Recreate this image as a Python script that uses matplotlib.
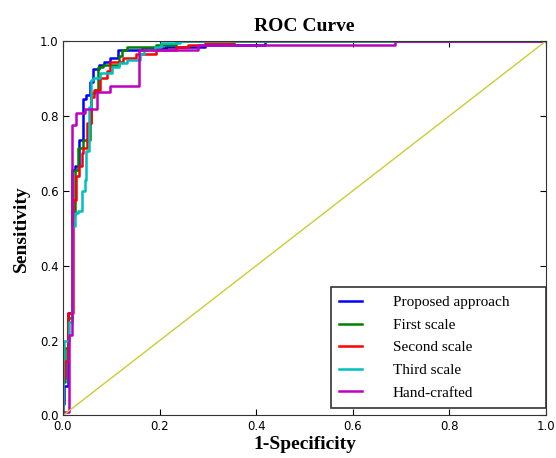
import matplotlib
matplotlib.use('Agg')
import matplotlib.pyplot as plt

# ROC step points: at each fpr the curve rises to the given tpr
fpr_prop = [0, 0, 0.003, 0.01, 0.018, 0.025, 0.034, 0.041, 0.048, 0.055, 0.062, 0.074, 0.084, 0.098, 0.114, 0.163, 0.213, 0.294, 0.419, 1.0]
tpr_prop = [0, 0.03, 0.08, 0.275, 0.655, 0.665, 0.735, 0.845, 0.855, 0.89, 0.925, 0.935, 0.945, 0.955, 0.975, 0.98, 0.985, 0.99, 1.0, 1.0]

fpr_first = [0, 0, 0.005, 0.01, 0.019, 0.025, 0.032, 0.042, 0.056, 0.059, 0.067, 0.073, 0.082, 0.116, 0.122, 0.132, 0.193, 0.233, 1.0]
tpr_first = [0, 0.09, 0.18, 0.26, 0.535, 0.655, 0.715, 0.735, 0.78, 0.86, 0.87, 0.93, 0.935, 0.96, 0.975, 0.983, 0.99, 1.0, 1.0]

fpr_second = [0, 0, 0.004, 0.011, 0.02, 0.026, 0.034, 0.039, 0.042, 0.05, 0.058, 0.065, 0.076, 0.092, 0.098, 0.124, 0.152, 0.193, 0.233, 0.258, 0.294, 0.354, 1.0]
tpr_second = [0, 0.1, 0.145, 0.275, 0.575, 0.64, 0.665, 0.70, 0.715, 0.78, 0.85, 0.87, 0.90, 0.92, 0.945, 0.955, 0.965, 0.975, 0.985, 0.99, 0.995, 1.0, 1.0]

fpr_third = [0, 0, 0.003, 0.012, 0.019, 0.025, 0.032, 0.039, 0.045, 0.048, 0.054, 0.057, 0.058, 0.062, 0.076, 0.101, 0.116, 0.132, 0.159, 0.167, 0.19, 0.202, 0.243, 1.0]
tpr_third = [0, 0.15, 0.2, 0.25, 0.505, 0.54, 0.545, 0.6, 0.63, 0.705, 0.825, 0.86, 0.895, 0.9, 0.915, 0.93, 0.94, 0.95, 0.965, 0.975, 0.985, 0.995, 1.0, 1.0]

fpr_hand = [0, 0, 0.013, 0.018, 0.027, 0.045, 0.071, 0.098, 0.158, 0.28, 0.687, 1.0]
tpr_hand = [0, 0.01, 0.215, 0.775, 0.807, 0.818, 0.865, 0.88, 0.977, 0.99, 1.0, 1.0]

labels = ['Proposed approach', 'First scale', 'Second scale', 'Third scale', 'Hand-crafted']
colors = ['b', 'g', 'r', 'c', 'm']

fig = plt.figure(figsize=(5.56, 4.58), dpi=100)
ax = fig.add_axes([0.1133, 0.0928, 0.8687, 0.8177])

curves = [(fpr_prop, tpr_prop), (fpr_first, tpr_first), (fpr_second, tpr_second),
          (fpr_third, tpr_third), (fpr_hand, tpr_hand)]
for (x, y), c, lab in zip(curves, colors, labels):
    ax.plot(x, y, color=c, lw=1.8, drawstyle='steps-post', label=lab)
ax.plot([0, 1], [0, 1], color=(0.8, 0.8, 0.2), lw=1)

ax.set_xlim(0, 1)
ax.set_ylim(0, 1)
ax.set_xticks([0, 0.2, 0.4, 0.6, 0.8, 1.0])
ax.set_yticks([0, 0.2, 0.4, 0.6, 0.8, 1.0])
ax.tick_params(direction='in', top=True, right=True, length=4.5, labelsize=8.5, pad=3.3)
for s in ax.spines.values():
    s.set_color('#333333')

tf = 'Liberation Serif'
ax.set_title('ROC Curve', fontfamily=tf, fontweight='bold', fontsize=14, pad=7)
ax.set_xlabel('1-Specificity', fontfamily=tf, fontweight='bold', fontsize=14, labelpad=2)
ax.set_ylabel('Sensitivity', fontfamily=tf, fontweight='bold', fontsize=14, labelpad=7)

leg = ax.legend(loc='lower left', bbox_to_anchor=(0.555, 0.02, 0.445, 0.3), mode='expand',
                borderaxespad=0, prop={'family': tf, 'size': 11}, fancybox=False,
                handlelength=1.5, handletextpad=2.0, labelspacing=0.58, borderpad=0.55,
                framealpha=1)
leg.get_frame().set_edgecolor('#333333')
leg.get_frame().set_linewidth(1.2)

fig.savefig('out.png', dpi=100)
